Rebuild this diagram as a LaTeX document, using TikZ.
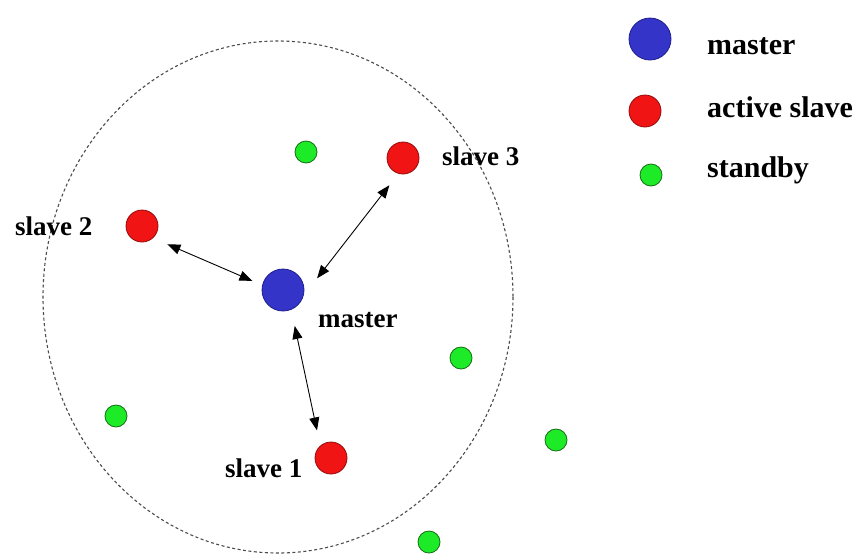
\documentclass[tikz,border=0pt]{standalone}
\usepackage{fontspec}
\setmainfont{Liberation Serif}
\usetikzlibrary{arrows.meta}
\definecolor{mblue}{RGB}{52,52,200}
\definecolor{mblueD}{RGB}{30,30,140}
\definecolor{sred}{RGB}{240,20,20}
\definecolor{sredD}{RGB}{150,10,10}
\definecolor{sgreen}{RGB}{30,235,40}
\definecolor{sgreenD}{RGB}{20,110,20}
\tikzset{
  masterdot/.style={circle, fill=mblue, draw=mblueD, line width=0.8pt, minimum size=42pt, inner sep=0pt, outer sep=0pt},
  slavedot/.style={circle, fill=sred, draw=sredD, line width=0.8pt, minimum size=32pt, inner sep=0pt, outer sep=0pt},
  standbydot/.style={circle, fill=sgreen, draw=sgreenD, line width=0.8pt, minimum size=22pt, inner sep=0pt, outer sep=0pt},
  lbl/.style={anchor=base west, inner sep=0pt, font=\fontsize{27}{30}\selectfont\bfseries},
  leglbl/.style={anchor=base west, inner sep=0pt, font=\fontsize{30}{33}\selectfont\bfseries},
  link/.style={line width=0.9pt, {Triangle[length=13pt,width=10pt]}-{Triangle[length=13pt,width=10pt]}},
  rangeline/.style={draw=black!70, line width=1.1pt, dash pattern=on 3pt off 2.5pt}
}
\begin{document}
\begin{tikzpicture}[x=1pt,y=-1pt]
\useasboundingbox (0,0) rectangle (866,555);
% range boundary
\draw[rangeline] (278,297) ellipse [x radius=235, y radius=256];
% nodes
\node[masterdot] (m) at (283,290) {};
\node[slavedot] (s1) at (331,458) {};
\node[slavedot] (s2) at (142,226) {};
\node[slavedot] (s3) at (403,158) {};
\node[standbydot] (g1) at (306,152) {};
\node[standbydot] (g2) at (116,416) {};
\node[standbydot] (g3) at (461,358) {};
\node[standbydot] (g4) at (556,440) {};
\node[standbydot] (g5) at (429,542) {};
% labels
\node[lbl] (lm) at (318,327) {master};
\node[lbl] (l1) at (225,477) {slave 1};
\node[lbl] (l2) at (15,235) {slave 2};
\node[lbl] (l3) at (442,165) {slave 3};
% connectors
\draw[link, shorten <=16pt, shorten >=11pt] (s2.-48) -- (m.167);
\draw[link, shorten <=15pt, shorten >=23pt] (s3.-106) -- (m.-18);
\draw[link, shorten <=17pt, shorten >=16pt] (m.-67) -- (s1.132);
% legend
\node[masterdot] (km) at (650,39) {};
\node[slavedot] (ks) at (645,111) {};
\node[standbydot] (kg) at (651,175) {};
\node[leglbl] (tm) at (707,54) {master};
\node[leglbl] (ts) at (707,117) {active slave};
\node[leglbl] (tg) at (707,177) {standby};
\end{tikzpicture}
\end{document}
